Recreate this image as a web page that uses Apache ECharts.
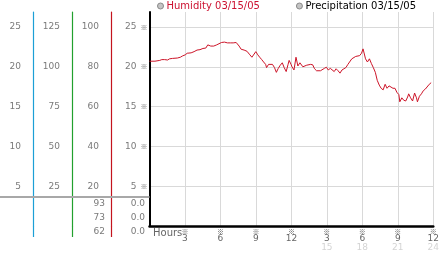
<!DOCTYPE html>
<html><head><meta charset="utf-8">
<script src="https://cdn.jsdelivr.net/npm/echarts@6/dist/echarts.min.js"></script>
<style>html,body{margin:0;padding:0;background:#fff}#c{width:442px;height:253px}</style>
</head><body><div id="c"></div>
<script>
// ---- data ----
const hours = [0,0.46,0.87,1.04,1.12,1.28,1.53,1.70,1.95,2.11,2.36,2.61,2.78,3.02,3.19,3.52,3.77,4.02,4.27,4.52,4.76,4.93,5.18,5.43,5.68,5.84,6.09,6.34,6.59,6.84,7.08,7.33,7.41,7.58,7.75,8.0,8.24,8.49,8.66,8.82,8.99,9.16,9.32,9.49,9.65,9.82,9.90,10.07,10.23,10.40,10.57,10.73,10.89,11.06,11.23,11.39,11.56,11.72,11.81,11.97,12.05,12.22,12.39,12.55,12.72,12.80,12.97,13.13,13.30,13.46,13.63,13.80,13.96,14.13,14.29,14.46,14.62,14.79,14.96,15.12,15.29,15.45,15.62,15.78,15.95,16.11,16.28,16.44,16.61,16.78,16.94,17.11,17.27,17.44,17.60,17.77,17.93,18.06,18.27,18.43,18.60,18.77,18.93,19.10,19.26,19.43,19.59,19.76,19.93,20.09,20.26,20.42,20.59,20.76,20.92,21.09,21.17,21.34,21.50,21.67,21.83,21.92,22.08,22.25,22.42,22.58,22.66,22.83,23.0,23.16,23.33,23.49,23.66,23.82];
const humidity = [20.7,20.7,20.8,20.9,21.05,20.9,20.85,21.0,21.05,20.9,21.1,21.2,21.35,21.5,21.7,21.75,21.9,22.1,22.15,22.3,22.35,22.75,22.6,22.6,22.75,23.0,23.05,23.1,23.0,23.0,23.0,23.05,23.1,22.6,22.2,22.1,21.95,21.5,21.2,21.4,21.9,21.5,21.2,20.9,20.6,20.3,19.9,20.3,20.1,20.3,19.9,19.3,19.8,20.2,20.5,19.9,19.4,20.3,20.8,20.3,20.0,19.6,21.2,20.1,20.5,20.6,20.0,20.1,20.2,20.1,20.3,20.25,19.75,19.5,19.6,19.5,19.5,19.8,19.95,19.6,19.8,19.6,19.4,19.75,19.5,19.2,19.6,19.5,19.9,20.3,20.5,21.0,21.2,21.3,21.3,21.4,21.7,22.25,21.0,20.6,21.0,20.4,19.9,19.3,18.3,17.7,17.3,17.1,17.8,17.3,17.6,17.45,17.3,17.3,16.8,16.5,15.6,16.1,15.8,15.7,16.2,16.6,16.1,15.7,16.7,16.1,15.6,16.3,16.6,17.0,17.2,17.4,17.8,18.0];
const precipitation = [];
const seriesNames = ['Humidity 03/15/05', 'Precipitation 03/15/05'];
const xTicks = [3,6,9,12,15,18,21,24];
const xTickLabels = ['3','6','9','12','3','6','9','12'];
const xTickLabels2 = ['','','','','15','18','21','24'];
const yTicks = [5,10,15,20,25];
const scaleA = [5,10,15,20,25];
const scaleB = [25,50,75,100,125];
const scaleC = [20,40,60,80,100];
const tableLeft = ['93','73','62'];
const tableRight = ['0.0','0.0','0.0'];
const xAxisName = 'Hours';

// ---- layout / style ----
const GL = 149.5, GT = 12, GB = 27, GR = 3.5;
const YMAX = 26.88;
const BLUE = '#1c9fd6', GREEN = '#22a02e', RED = '#c4141e';
const LINE_RED = '#cc1428';
const GREY = '#7a7a7a';
const FONT = 'DejaVu Sans';
const MARK_FONT = 'Noto Sans CJK JP';
const offA = 116.5, offB = 77.5, offC = 38.5;

const chart = echarts.init(document.getElementById('c'), null, {renderer: 'canvas'});

function sideAxis(max, ticks, offset, color) {
  return {
    type: 'value', min: 0, max: max, position: 'left', offset: offset,
    axisLine: {show: true, onZero: false, lineStyle: {color: color, width: 1.2}},
    axisTick: {show: false, customValues: ticks},
    axisLabel: {customValues: ticks, margin: 12, color: GREY, fontSize: 9, fontFamily: FONT},
    splitLine: {show: false}
  };
}

const graphics = [];
graphics.push({type: 'line', z: 10, shape: {x1: 0, y1: 197, x2: GL, y2: 197}, style: {stroke: '#a8a8a8', lineWidth: 2}});
[[offA, BLUE], [offB, GREEN], [offC, RED]].forEach(([o, c]) => {
  const x = Math.round(GL - o) + 0.5;
  graphics.push({type: 'line', z: 11, shape: {x1: x, y1: 253 - GB, x2: x, y2: 237}, style: {stroke: c, lineWidth: 1.2}});
});
tableLeft.forEach((t, i) => {
  graphics.push({type: 'text', z: 12, x: 105, y: 204 + i * 14, style: {text: t, fill: GREY, font: '9px "' + FONT + '"', textAlign: 'right', textVerticalAlign: 'middle'}});
});
tableRight.forEach((t, i) => {
  graphics.push({type: 'text', z: 12, x: 145, y: 204 + i * 14, style: {text: t, fill: GREY, font: '9px "' + FONT + '"', textAlign: 'right', textVerticalAlign: 'middle'}});
});
graphics.push({type: 'text', z: 12, x: 153, y: 233.5, style: {text: xAxisName, fill: '#666', font: '10px "' + FONT + '"', textAlign: 'left', textVerticalAlign: 'middle'}});

const option = {
  animation: false,
  backgroundColor: '#fff',
  textStyle: {fontFamily: FONT},
  grid: {left: GL, right: GR, top: GT, bottom: GB, containLabel: false},
  legend: {
    left: 157, top: 1, padding: 0, itemWidth: 6, itemHeight: 6, itemGap: 36, icon: 'circle',
    textStyle: {fontSize: 10, fontFamily: FONT, padding: [0, 0, 0, -2]},
    itemStyle: {color: '#c4c4c4', borderColor: '#8a8a8a', borderWidth: 1},
    data: [
      {name: seriesNames[0], textStyle: {color: '#cc1130'}},
      {name: seriesNames[1], textStyle: {color: '#000'}}
    ]
  },
  xAxis: {
    type: 'value', min: 0, max: 24, interval: 3,
    axisLine: {show: true, onZero: false, lineStyle: {color: '#000', width: 2.5}},
    axisTick: {show: false, customValues: xTicks},
    splitLine: {show: true, lineStyle: {color: '#d9d9d9', width: 1}},
    axisLabel: {
      customValues: xTicks, margin: 3,
      formatter: function (v) {
        const i = xTicks.indexOf(v);
        if (i < 0) return '';
        let s = '{t|※}\n{n|' + xTickLabels[i] + '}';
        if (xTickLabels2[i]) s += '\n{f|' + xTickLabels2[i] + '}';
        return s;
      },
      rich: {
        t: {fontSize: 7, lineHeight: 5, color: '#555', fontFamily: MARK_FONT},
        n: {fontSize: 9, lineHeight: 9, color: '#666', fontFamily: FONT},
        f: {fontSize: 9, lineHeight: 10, color: '#d4d4d4', fontFamily: FONT}
      }
    }
  },
  yAxis: [
    {
      type: 'value', min: 0, max: YMAX, position: 'left', offset: 0,
      axisLine: {show: true, onZero: false, lineStyle: {color: '#000', width: 2}},
      axisTick: {show: false, customValues: yTicks},
      splitLine: {show: true, lineStyle: {color: '#d9d9d9', width: 1}},
      axisLabel: {
        customValues: yTicks, margin: 2,
        formatter: function (v) { return '{n|' + v + '}{t|※}'; },
        rich: {
          n: {fontSize: 9, color: GREY, fontFamily: FONT},
          t: {fontSize: 7, color: '#555', fontFamily: MARK_FONT, padding: [0, 0, 0, 4]}
        }
      }
    },
    sideAxis(YMAX * 4, scaleC, offC, RED),
    sideAxis(YMAX * 5, scaleB, offB, GREEN),
    sideAxis(YMAX, scaleA, offA, BLUE)
  ],
  series: [
    {
      name: seriesNames[0], type: 'line', xAxisIndex: 0, yAxisIndex: 0,
      data: hours.map((h, i) => [h, humidity[i]]),
      showSymbol: false, symbol: 'none',
      lineStyle: {color: LINE_RED, width: 1}, itemStyle: {color: '#c4c4c4'}
    },
    {
      name: seriesNames[1], type: 'line', xAxisIndex: 0, yAxisIndex: 0,
      data: precipitation, showSymbol: false,
      lineStyle: {color: '#555', width: 1}, itemStyle: {color: '#c4c4c4'}
    }
  ],
  graphic: graphics
};
chart.setOption(option);
</script>
</body></html>
